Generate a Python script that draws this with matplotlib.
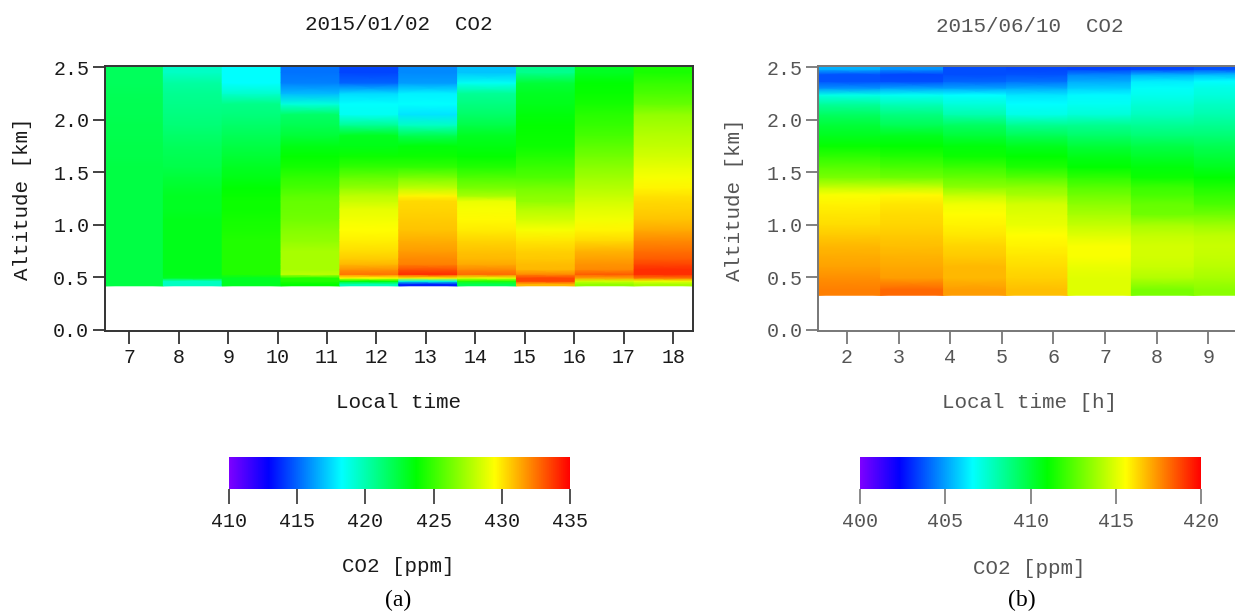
import numpy as np
import matplotlib
matplotlib.use("Agg")
import matplotlib.pyplot as plt
from matplotlib.colors import LinearSegmentedColormap, Normalize
from matplotlib.cm import ScalarMappable

W, H = 1235, 613

# --- Panel (a) ---
alt_a = [.42,.45,.48,.51,.55,.60,.65,.70,.80,.90,1.0,1.1,1.2,1.25,1.3,1.4,1.5,1.6,1.7,1.8,1.9,2.0,2.1,2.2,2.3,2.4,2.5]
time_a = [6.5,7.69,8.88,10.07,11.26,12.45,13.64,14.83,16.02,17.21,18.4]
co2_a_c1 = [422.3,422.3,422.3,422.3,422.3,422.3,422.3,422.3,422.3,422.3,422.3,422.3,422.3,422.3,422.3,422.3,422.3,422.2,422.2,422.1,422.1,422.0,422.0,421.9,421.8,421.8]
co2_a_c2 = [419.6,419.6,423.0,423.2,423.2,423.2,423.2,423.2,423.2,423.2,423.2,423.0,423.0,423.0,422.8,422.5,422.2,422.0,421.8,421.5,421.2,421.0,420.8,420.6,420.3,419.5]
co2_a_c3 = [423.0,423.0,423.0,424.5,424.5,424.5,424.5,424.5,424.5,424.3,424.2,424.0,424.0,423.9,423.7,423.3,423.0,422.6,422.3,421.9,421.5,421.1,420.8,419.3,418.3,418.3]
co2_a_c4 = [423.8,424.5,424.5,428.0,427.5,427.5,427.5,427.5,427.0,426.7,426.3,426.1,426.0,425.8,425.3,424.8,424.2,423.8,423.3,422.5,422.0,421.5,419.0,416.8,415.6,415.3]
co2_a_c5 = [419.8,423.8,429.5,432.5,431.8,431.0,430.6,430.2,429.8,429.5,429.2,428.9,428.3,428.0,427.0,426.0,424.8,424.0,423.3,423.0,420.5,418.5,418.3,417.5,415.0,414.3]
co2_a_c6 = [413.5,419.0,429.8,434.0,433.2,432.2,432.0,431.6,431.2,430.8,430.6,430.4,430.3,429.7,428.0,426.5,424.8,424.0,423.5,422.0,419.5,417.7,418.3,418.0,416.2,415.8]
co2_a_c7 = [422.0,424.5,429.0,432.7,432.0,431.3,431.0,430.8,430.4,429.9,429.6,429.3,429.0,427.5,426.5,425.5,424.5,423.8,423.4,423.0,422.2,421.5,421.0,420.5,418.5,417.0]
co2_a_c8 = [431.0,433.5,433.5,432.0,431.0,430.9,430.7,430.5,430.0,429.3,428.5,427.8,427.0,426.8,426.4,425.5,425.0,424.5,424.0,423.9,423.8,423.5,423.2,423.0,422.5,420.7]
co2_a_c9 = [427.0,428.5,431.5,433.0,432.0,431.8,431.5,431.1,430.3,429.7,429.2,428.8,428.5,428.2,427.8,427.3,426.8,426.3,425.8,425.3,424.9,424.6,424.2,423.9,423.7,423.0]
co2_a_c10 = [427.5,429.0,432.5,434.0,434.0,433.5,433.0,432.6,432.0,431.3,430.8,430.5,430.3,430.1,429.7,429.3,428.9,428.5,428.1,427.8,427.4,427.0,426.0,425.4,424.9,424.3]
hours_a = [7,8,9,10,11,12,13,14,15,16,17,18]

# --- Panel (b) ---
alt_b = [.33,.44,.55,.65,.75,.85,.95,1.05,1.15,1.25,1.32,1.4,1.5,1.6,1.7,1.8,1.9,2.0,2.1,2.2,2.27,2.33,2.4,2.46,2.5]
time_b = [1.43,2.65,3.87,5.09,6.28,7.51,8.73,9.95]
co2_b_c1 = [417.8,417.5,417.2,417.0,416.8,416.5,416.2,416.0,415.8,415.5,414.5,413.2,412.5,411.8,411.1,410.5,410.0,409.3,408.3,407.0,404.8,403.7,403.7,405.3]
co2_b_c2 = [418.2,417.3,417.1,416.9,416.7,416.5,416.3,416.2,416.0,415.7,414.5,413.0,412.3,411.6,411.0,410.5,409.5,408.8,407.8,406.8,405.0,403.6,403.5,404.8]
co2_b_c3 = [417.3,416.8,416.8,416.5,416.3,416.0,415.8,415.6,415.3,414.5,413.5,412.8,412.0,411.2,410.8,410.0,409.3,408.0,407.2,406.6,405.0,404.0,403.6,403.6]
co2_b_c4 = [416.7,416.4,416.2,416.0,415.8,415.6,415.2,415.0,414.8,414.0,413.5,412.5,411.5,411.0,410.5,409.5,408.5,407.0,406.6,406.2,405.2,404.2,403.7,403.5]
co2_b_c5 = [415.0,415.0,415.2,415.5,415.5,415.0,414.5,414.0,413.5,413.0,412.5,411.8,411.0,410.6,410.0,409.2,408.5,407.3,406.8,406.5,405.8,405.2,404.5,403.4]
co2_b_c6 = [413.2,414.2,414.6,414.8,414.8,414.5,414.0,413.0,412.8,412.3,412.0,411.2,410.8,410.3,409.8,409.0,408.4,407.7,407.3,406.9,406.7,406.3,405.2,403.5]
co2_b_c7 = [413.5,414.0,414.3,414.5,414.6,414.4,413.8,413.0,412.3,411.9,411.5,411.0,410.5,410.0,409.6,409.0,408.5,408.0,407.6,407.2,407.0,406.6,405.4,403.7]
hours_b = [2,3,4,5,6,7,8,9]

alt_ticks = [0.0, 0.5, 1.0, 1.5, 2.0, 2.5]
cbar_a_ticks = [410, 415, 420, 425, 430, 435]
cbar_b_ticks = [400, 405, 410, 415, 420]

cmap = LinearSegmentedColormap.from_list("rb", [
    (0.0, (0.49, 0, 1)), (0.115, (0, 0, 1)), (0.33, (0, 1, 1)),
    (0.55, (0, 1, 0)), (0.78, (1, 1, 0)), (1.0, (1, 0, 0))], N=512)

MONO = "Liberation Mono"
SERIF = "Liberation Serif"
fig = plt.figure(figsize=(W / 100, H / 100), dpi=100, facecolor="white")


def axpx(l, t, r, b):
    return fig.add_axes([l / W, 1 - b / H, (r - l) / W, (b - t) / H])


def txt(x, y, s, color, size=15, family=MONO, **kw):
    fig.text(x / W, 1 - y / H, s, ha="center", va="center", color=color,
             fontsize=size, family=family, **kw)


def panel(box, t, alt, cols, hours, xlim, vmin, vmax, color, spine_col):
    ax = axpx(*box)
    edges = np.array(alt)
    centers = (edges[:-1] + edges[1:]) / 2
    nodes = np.concatenate([[edges[0]], centers, [edges[-1]]])
    # each time column is shaded on its own: stepped in time, smooth with altitude
    for i, col in enumerate(cols):
        v = np.array(col)
        v = np.concatenate([[v[0]], v, [v[-1]]])
        ax.pcolormesh([t[i], t[i + 1]], nodes, np.column_stack([v, v]),
                      cmap=cmap, vmin=vmin, vmax=vmax, shading="gouraud")
    ax.set_xlim(*xlim)
    ax.set_ylim(-0.01, 2.51)
    ax.set_xticks(hours)
    ax.set_yticks(alt_ticks)
    ax.set_yticklabels([f"{v:.1f}" for v in alt_ticks])
    ax.tick_params(axis="both", direction="out", length=9, width=1.3, color=spine_col,
                   labelcolor=color, labelsize=14.4)
    ax.tick_params(axis="x", pad=3.5)
    ax.tick_params(axis="y", pad=2)
    for lab in ax.get_xticklabels() + ax.get_yticklabels():
        lab.set_family(MONO)
    for s in ax.spines.values():
        s.set_color(spine_col)
        s.set_linewidth(1.4)
    return ax


def cbar(box, vmin, vmax, ticks, color, spine_col):
    cax = axpx(*box)
    sm = ScalarMappable(Normalize(vmin, vmax), cmap)
    cb = fig.colorbar(sm, cax=cax, orientation="horizontal")
    cb.set_ticks(ticks)
    cb.outline.set_visible(False)
    cax.tick_params(axis="x", direction="out", length=11, width=1.2, color=spine_col,
                    labelcolor=color, labelsize=14.4, pad=5.5)
    for lab in cax.get_xticklabels():
        lab.set_family(MONO)


C1, S1 = "#1a1a1a", "#333333"
C2, S2 = "#555555", "#777777"

panel((104.5, 66, 693, 331), time_a,
      alt_a, [co2_a_c1, co2_a_c2, co2_a_c3, co2_a_c4, co2_a_c5, co2_a_c6, co2_a_c7,
              co2_a_c8, co2_a_c9, co2_a_c10],
      hours_a, (6.5, 18.4), 410, 435, C1, S1)
panel((817.7, 66, 1250, 331), time_b,
      alt_b, [co2_b_c1, co2_b_c2, co2_b_c3, co2_b_c4, co2_b_c5, co2_b_c6, co2_b_c7],
      hours_b, (1.43, 9.81), 400, 420, C2, S2)

cbar((229, 457, 570, 489), 410, 435, cbar_a_ticks, C1, S1)
cbar((860, 457, 1201, 489), 400, 420, cbar_b_ticks, C2, S2)

txt(399, 25, "2015/01/02  CO2", C1)
txt(1030, 26, "2015/06/10  CO2", C2)
txt(23, 199, "Altitude [km]", C1, rotation=90)
txt(735, 200, "Altitude [km]", C2, rotation=90)
txt(399, 402, "Local time", C1)
txt(1029, 403, "Local time [h]", C2)
txt(398, 566, "CO2 [ppm]", C1)
txt(1029, 568, "CO2 [ppm]", C2)
txt(398, 600, "(a)", "#000000", size=17, family=SERIF)
txt(1022, 600, "(b)", "#000000", size=17, family=SERIF)

fig.savefig("out.png", dpi=100, facecolor="white")
